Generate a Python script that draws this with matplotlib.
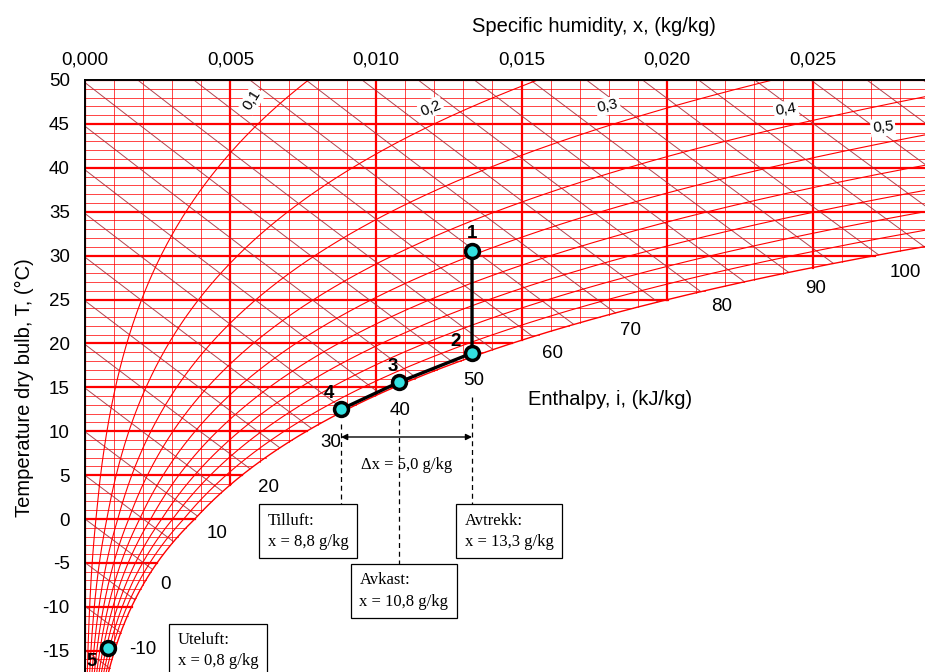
import numpy as np
import matplotlib
matplotlib.use('Agg')
import matplotlib.pyplot as plt
from matplotlib.ticker import FuncFormatter, FixedLocator

plt.rcParams['font.family'] = ['Liberation Sans', 'DejaVu Sans']

P_ATM = 101.325  # kPa

# state points: humidity x in g/kg, dry bulb T in degC
point_names = ['1', '2', '3', '4', '5']
point_x = [13.3, 13.3, 10.8, 8.8, 0.8]
point_T = [30.5, 18.9, 15.6, 12.5, -14.7]

# boxes under the chart
box_names = ['Tilluft:', 'Avkast:', 'Avtrekk:', 'Uteluft:']
box_x = [8.8, 10.8, 13.3, 0.8]
delta_x_text = '5,0'

# chart line families
rh_levels = [0.1, 0.2, 0.3, 0.4, 0.5, 0.6, 0.7, 0.8, 0.9]
rh_labelled = [0.1, 0.2, 0.3, 0.4, 0.5]
h_levels = list(range(-20, 130, 5))
h_labelled = [-10, 0, 10, 20, 30, 40, 50, 60, 70, 80, 90, 100]
x_ticks = [0.000, 0.005, 0.010, 0.015, 0.020, 0.025]
t_ticks = [-15, -10, -5, 0, 5, 10, 15, 20, 25, 30, 35, 40, 45, 50]


def p_sat(T):
    T = np.asarray(T, dtype=float)
    water = 0.61094 * np.exp(17.625 * T / (T + 243.04))
    ice = 0.61115 * np.exp(22.452 * T / (272.55 + T))
    return np.where(T >= 0, water, ice)


def x_of_p(p):
    return 0.622 * p / (P_ATM - p)


def enthalpy(x, T):
    return 1.006 * T + x * (2501 + 1.86 * T)


def comma(v, dec):
    return (('%.' + str(dec) + 'f') % v).replace('.', ',')


T_grid = np.linspace(-20, 50, 1401)
x_sat = x_of_p(p_sat(T_grid))
h_sat = enthalpy(x_sat, T_grid)

fig = plt.figure(figsize=(9.25, 6.72), dpi=100)
# axes run past the right and bottom edges of the figure
ax = fig.add_axes([85 / 925, -22.6 / 672, 1018.5 / 925, 614.6 / 672])
ax.set_xlim(0, 0.035)
ax.set_ylim(-20, 50)

# isotherms
for T in range(-20, 51):
    thick = (T % 5 == 0)
    ax.plot([0, x_of_p(p_sat(T))], [T, T], color='red',
            lw=1.6 if thick else 0.6, alpha=1 if thick else 0.85, zorder=1)

# constant humidity lines
for k in range(0, 36):
    xv = k * 0.001
    t_dew = np.interp(xv, x_sat, T_grid)
    thick = (k % 5 == 0)
    ax.plot([xv, xv], [t_dew, 50], color='red',
            lw=1.6 if thick else 0.6, alpha=1 if thick else 0.85, zorder=1)

# enthalpy lines
for h in h_levels:
    x_int = np.interp(h, h_sat, x_sat)
    xx = np.linspace(0, x_int, 200)
    TT = (h - 2501 * xx) / (1.006 + 1.86 * xx)
    ax.plot(xx, TT, color='#a8303c', lw=0.7, alpha=0.9, zorder=2)

# relative humidity lines
for r in rh_levels:
    ax.plot(x_of_p(r * p_sat(T_grid)), T_grid, color='red', lw=0.8, zorder=2)
ax.plot(x_sat, T_grid, color='red', lw=1.0, zorder=2)

rh_label_pos = [(0.00574, 47.7, 58), (0.01189, 46.8, 22), (0.01797, 47.0, 12),
                (0.02409, 46.6, 9), (0.02742, 44.6, 5)]
for r, (lx, ly, rot) in zip(rh_labelled, rh_label_pos):
    ax.text(lx, ly, comma(r, 1), fontsize=11, rotation=rot,
            ha='center', va='center', zorder=4,
            bbox=dict(boxstyle='square,pad=0.12', fc='white', ec='none'))

h_label_pos = [(0.00199, -14.9), (0.00275, -7.5), (0.00454, -1.6), (0.00629, 3.6),
               (0.00845, 8.7), (0.01082, 12.4), (0.01337, 15.8), (0.01608, 18.9),
               (0.01873, 21.5), (0.02189, 24.15), (0.02509, 26.3), (0.02818, 28.1)]
for h, (lx, ly) in zip(h_labelled, h_label_pos):
    ax.text(lx, ly, str(h), fontsize=13.5, ha='center', va='center', zorder=4)

ax.text(0.01804, 13.6, 'Enthalpy, i, (kJ/kg)', fontsize=14.5, ha='center',
        va='center', zorder=4)

# process path 1-2-3-4 and outdoor point 5
px = np.array(point_x) / 1000
ax.plot(px[:4], point_T[:4], color='black', lw=2.4, zorder=5)
ax.plot(px, point_T, ls='none', marker='o', ms=10, mfc='#33e0e0',
        mec='black', mew=2.5, zorder=6)
name_off = [(0, 13), (-12, 8), (-5, 11), (-9, 11), (-12, -10)]
for name, x0, t0, (dx, dy) in zip(point_names, px, point_T, name_off):
    ax.annotate(name, (x0, t0), xytext=(dx, dy), textcoords='offset points',
                fontsize=13.5, fontweight='bold', ha='center', va='center',
                zorder=7)

# dashed drop lines to the boxes
serif = ['Liberation Serif', 'DejaVu Serif']
drop_start = [10.8, 11.3, 13.9]
drop_end = [1.5, -5.35, 1.5]
for bx, t0, t1 in zip(box_x[:3], drop_start, drop_end):
    ax.plot([bx / 1000, bx / 1000], [t0, t1], color='black', lw=0.9,
            ls=(0, (4, 3)), zorder=5)

box_pos = [(0.00766, -1.4), (0.01096, -8.2), (0.01457, -1.4), (0.00457, -15.0)]
for name, bx, (cx, cy) in zip(box_names, box_x, box_pos):
    ax.text(cx, cy, name + '\nx = ' + comma(bx, 1) + ' g/kg',
            family=serif, fontsize=12, ha='center', va='center',
            multialignment='left', linespacing=1.45, zorder=6,
            bbox=dict(boxstyle='square,pad=0.5', fc='white', ec='black', lw=0.9))

ax.annotate('', xy=(point_x[0] / 1000, 9.34), xytext=(point_x[3] / 1000, 9.34),
            arrowprops=dict(arrowstyle='<|-|>', color='black', lw=1.0,
                            mutation_scale=9, shrinkA=0, shrinkB=0), zorder=6)
ax.text((point_x[0] + point_x[3]) / 2000, 6.15,
        '\u0394x = ' + delta_x_text + ' g/kg', family=serif, fontsize=12,
        ha='center', va='center', zorder=6)

# axes
ax.xaxis.tick_top()
ax.xaxis.set_label_position('top')
ax.xaxis.set_major_locator(FixedLocator(x_ticks))
ax.yaxis.set_major_locator(FixedLocator(t_ticks))
ax.xaxis.set_major_formatter(FuncFormatter(lambda v, p: comma(v, 3)))
ax.yaxis.set_major_formatter(FuncFormatter(lambda v, p: '%d' % v))
ax.tick_params(axis='x', length=0, pad=8, labelsize=13.5)
ax.tick_params(axis='y', length=0, pad=11, labelsize=13.5)
ax.set_xlabel('Specific humidity, x, (kg/kg)', fontsize=14.5, labelpad=14)
ax.set_ylabel('Temperature dry bulb, T, (\u00b0C)', fontsize=14.5, labelpad=6)
for s in ['right', 'bottom']:
    ax.spines[s].set_visible(False)
for s in ['top', 'left']:
    ax.spines[s].set_linewidth(1.4)
    ax.spines[s].set_zorder(8)

fig.savefig('out.png', dpi=100)
